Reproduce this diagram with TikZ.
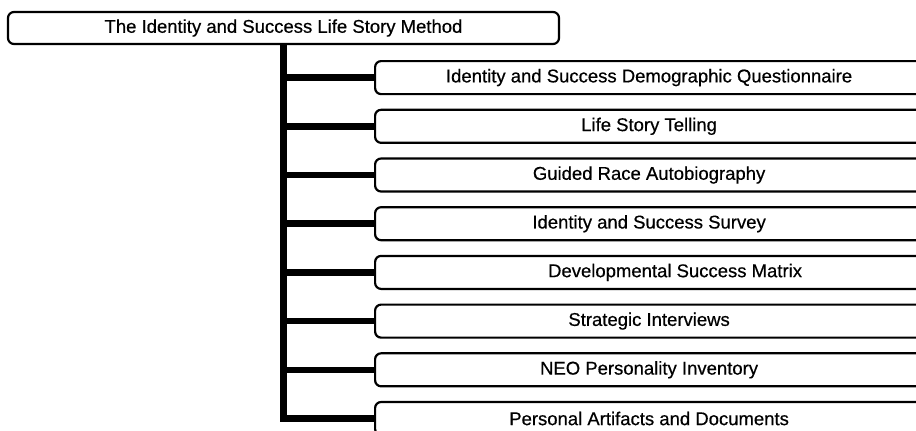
\documentclass[tikz,border=0pt]{standalone}
\usepackage{fontspec}
\setmainfont{Liberation Sans}
\newfontfamily\boxfont[FakeBold=0.5]{Liberation Sans}
\begin{document}
\begin{tikzpicture}[x=1pt,y=-1pt,
  box/.style={draw=black, line width=2.2pt, rounded corners=6pt, fill=white,
    inner sep=0pt, font=\boxfont\fontsize{18.5}{20}\selectfont},
  rootbox/.style={box, minimum width=551pt, minimum height=32pt},
  childbox/.style={box, minimum width=548pt, minimum height=33pt},
  link/.style={line width=6.5pt, line cap=butt}
]
\useasboundingbox (0,0) rectangle (916,431);
\clip (0,0) rectangle (916,431);

% root
\node[rootbox] (root) at (283.5,28) {The Identity and Success Life Story Method};

% children
\foreach \i/\txt in {
  1/{Identity and Success Demographic Questionnaire},
  2/{Life Story Telling},
  3/{Guided Race Autobiography},
  4/{Identity and Success Survey},
  5/{\hspace*{52pt}Developmental Success Matrix},
  6/{Strategic Interviews},
  7/{NEO Personality Inventory},
  8/{Personal Artifacts and Documents}}
{
  \node[childbox, anchor=north west] (c\i) at (374,{60+48.7*(\i-1)}) {\txt};
}

% trunk and branches
\coordinate (top) at (283.5,0 |- root.south);
\draw[link] (top) -- (top |- c8.west) -- (c8.west);
\foreach \i in {1,...,7}{
  \draw[link] (top |- c\i.west) -- (c\i.west);
}
\end{tikzpicture}
\end{document}
